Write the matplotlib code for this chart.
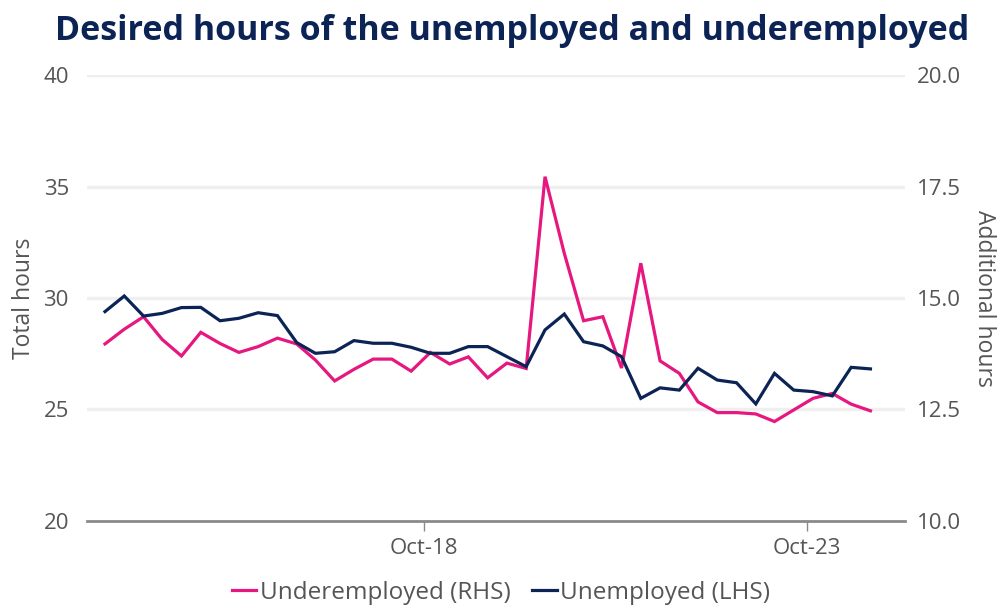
import matplotlib
matplotlib.use("Agg")
import matplotlib.pyplot as plt
import matplotlib.dates as mdates
import numpy as np
import pandas as pd

# Quarterly survey periods (Feb/May/Aug/Nov), Aug-2014 to Aug-2024
periods = pd.date_range("2014-08-01", "2024-08-01", freq="3MS")

# Total hours desired by the unemployed (left axis)
unemployed = [29.39, 30.09, 29.19, 29.31, 29.57, 29.58, 28.98, 29.09, 29.34, 29.21,
              28.00, 27.52, 27.59, 28.09, 27.97, 27.97, 27.79, 27.52, 27.52, 27.82,
              27.82, 27.37, 26.92, 28.57, 29.28, 28.04, 27.85, 27.37, 25.50, 25.97,
              25.87, 26.85, 26.32, 26.20, 25.25, 26.62, 25.87, 25.80, 25.61, 26.89,
              26.82]

# Additional hours desired by the underemployed (right axis)
underemployed = [13.97, 14.30, 14.58, 14.07, 13.70, 14.23, 13.98, 13.78, 13.91, 14.10,
                 13.97, 13.61, 13.14, 13.40, 13.63, 13.63, 13.36, 13.78, 13.52, 13.68,
                 13.21, 13.54, 13.42, 17.72, 16.00, 14.49, 14.58, 13.43, 15.78, 13.59,
                 13.31, 12.67, 12.43, 12.43, 12.40, 12.23, 12.49, 12.75, 12.86, 12.62,
                 12.47]

left_ticks = [20, 25, 30, 35, 40]
right_ticks = [10.0, 12.5, 15.0, 17.5, 20.0]
x_tick_dates = ["2018-10-01", "2023-10-01"]
x_tick_labels = ["Oct-18", "Oct-23"]

title = "Desired hours of the unemployed and underemployed"

NAVY = "#0b2355"
PINK = "#e6177f"
TEXT = "#555555"
GRID = "#efefef"

plt.rcParams["font.family"] = ["Open Sans", "DejaVu Sans"]

fig = plt.figure(figsize=(10.02, 6.06), dpi=100)
ax = fig.add_axes([0.0868, 0.1403, 0.8162, 0.7359])
ax2 = ax.twinx()

ax.set_zorder(2)
ax.patch.set_visible(False)

ln_u, = ax.plot(periods, unemployed, color=NAVY, lw=2.3, solid_joinstyle="miter",
                label="Unemployed (LHS)", zorder=3)
ln_ue, = ax2.plot(periods, underemployed, color=PINK, lw=2.3, solid_joinstyle="miter",
                  label="Underemployed (RHS)", zorder=3)

ax.set_ylim(20, 40)
ax2.set_ylim(10, 20)
ax.set_yticks(left_ticks)
ax.set_yticklabels([f"{v:.0f}" for v in left_ticks])
ax2.set_yticks(right_ticks)
ax2.set_yticklabels([f"{v:.1f}" for v in right_ticks])

x0 = mdates.date2num(periods[0]) - 86
x1 = mdates.date2num(periods[-1]) + 164
ax.set_xlim(x0, x1)
ax.set_xticks(mdates.datestr2num(x_tick_dates))
ax.set_xticklabels(x_tick_labels)

for a in (ax, ax2):
    for s in ("top", "left", "right"):
        a.spines[s].set_visible(False)
ax2.spines["bottom"].set_visible(False)
ax.spines["bottom"].set_color("#8a8a8a")
ax.spines["bottom"].set_linewidth(2)

# horizontal gridlines drawn behind the series
for v in left_ticks[1:]:
    ax2.axhline(10 + (v - 20) / 2, color=GRID, lw=2.5, zorder=0)

ax.tick_params(axis="y", length=0, labelsize=16, labelcolor=TEXT, pad=13)
ax2.tick_params(axis="y", length=0, labelsize=16, labelcolor=TEXT, pad=9)
ax.tick_params(axis="x", length=7, width=1, color="#8a8a8a", labelsize=16,
               labelcolor=TEXT, pad=5)

ax.set_ylabel("Total hours", fontsize=16.5, color=TEXT, labelpad=5)
ax2.set_ylabel("Additional hours", fontsize=16.5, color=TEXT, rotation=-90, labelpad=25)

ttl = fig.text(0.5115, 0.949, title, ha="center", va="center", fontsize=22,
               fontweight="bold", color=NAVY)
# scale title so it spans the full chart width
fig.canvas.draw()
w = ttl.get_window_extent().width
ttl.set_fontsize(22 * 913 / w)

fig.legend(handles=[ln_ue, ln_u], loc="center", bbox_to_anchor=(0.5, 0.022),
           ncol=2, frameon=False, fontsize=17.5, handlelength=1.0, handletextpad=0.15,
           columnspacing=0.9, labelcolor=TEXT)

fig.savefig("out.png", dpi=100, facecolor="white")
